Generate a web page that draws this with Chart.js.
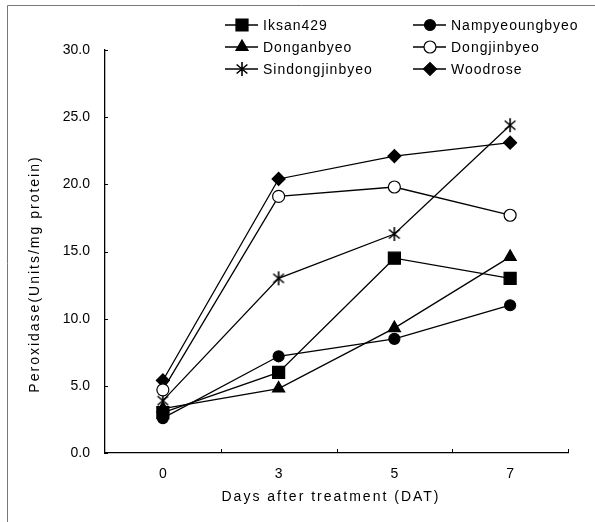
<!DOCTYPE html>
<html>
<head>
<meta charset="utf-8">
<script src="https://cdn.jsdelivr.net/npm/chart.js@4"></script>
<style>
  html, body { margin: 0; padding: 0; background: #fff; }
  #wrap { width: 595px; height: 522px; }
</style>
</head>
<body>
<div id="wrap"><canvas id="peroxChart" width="595" height="522"></canvas></div>
<script>
// days after treatment (category labels)
const days = ['0', '3', '5', '7'];
const yTicks = [0, 5, 10, 15, 20, 25, 30];

// peroxidase activity, Units/mg protein
const iksan429 = [3.0, 6.0, 14.5, 13.0];
const nampyeoungbyeo = [2.6, 7.2, 8.5, 11.0];
const donganbyeo = [3.3, 4.8, 9.3, 14.6];
const dongjinbyeo = [4.7, 19.1, 19.8, 17.7];
const sindongjinbyeo = [3.9, 13.0, 16.3, 24.4];
const woodrose = [5.4, 20.4, 22.1, 23.1];

const varieties = ['Iksan429', 'Nampyeoungbyeo', 'Donganbyeo', 'Dongjinbyeo', 'Sindongjinbyeo', 'Woodrose'];
const seriesValues = [iksan429, nampyeoungbyeo, donganbyeo, dongjinbyeo, sindongjinbyeo, woodrose];

const FONT = "'Liberation Sans', Arial, sans-serif";

// six-armed asterisk, the library's 'star' has eight
function asterisk(r) {
    const c = document.createElement('canvas');
    const s = 2 * Math.ceil(r + 1);
    c.width = s; c.height = s;
    const g = c.getContext('2d');
    g.strokeStyle = '#000';
    g.lineWidth = 1.6;
    g.beginPath();
    [0, 50, -50].forEach(function (deg) {
        const a = deg * Math.PI / 180;
        const dx = Math.sin(a) * r, dy = Math.cos(a) * r;
        g.moveTo(s / 2 - dx, s / 2 - dy);
        g.lineTo(s / 2 + dx, s / 2 + dy);
    });
    g.stroke();
    return c;
}

const markers = ['rect', 'circle', 'triangle', 'circle', asterisk(7), 'rectRot'];
const fills = ['#000', '#000', '#000', '#fff', '#000', '#000'];
const radii = [8.5, 5.5, 7, 6, 7, 6.5];

const datasets = varieties.map(function (name, i) {
    return {
        label: name,
        data: seriesValues[i],
        borderColor: '#000',
        borderWidth: 1.3,
        pointStyle: markers[i],
        pointRadius: radii[i],
        pointBackgroundColor: fills[i],
        pointBorderColor: '#000',
        pointBorderWidth: 1.2,
        tension: 0
    };
});

// legend with a short line through each marker, two columns
const lineLegend = {
    id: 'lineLegend',
    afterDraw(chart) {
        const ctx = chart.ctx;
        const colX = [225, 413];
        const rowY = [25, 47, 69];
        ctx.save();
        chart.data.datasets.forEach(function (ds, i) {
            const x = colX[i % 2];
            const y = rowY[Math.floor(i / 2)];
            ctx.strokeStyle = '#000';
            ctx.lineWidth = 1.3;
            ctx.beginPath();
            ctx.moveTo(x, y);
            ctx.lineTo(x + 33, y);
            ctx.stroke();
            ctx.fillStyle = ds.pointBackgroundColor;
            ctx.lineWidth = ds.pointBorderWidth;
            Chart.helpers.drawPoint(ctx, {
                pointStyle: ds.pointStyle,
                radius: ds.pointRadius,
                borderWidth: ds.pointBorderWidth
            }, x + 17, y);
            ctx.fillStyle = '#000';
            ctx.font = '14px ' + FONT;
            ctx.letterSpacing = '1px';
            ctx.textBaseline = 'middle';
            ctx.textAlign = 'left';
            ctx.fillText(ds.label, x + 38, y + 1);
            ctx.letterSpacing = '0px';
        });
        ctx.restore();
    }
};

// axis titles (wide letter spacing), inward tick marks and the outer frame
const axisDeco = {
    id: 'axisDeco',
    afterDraw(chart) {
        const ctx = chart.ctx;
        const xs = chart.scales.x;
        const ys = chart.scales.y;
        const area = chart.chartArea;
        ctx.save();
        ctx.strokeStyle = '#000';
        ctx.lineWidth = 1;
        ctx.beginPath();
        yTicks.forEach(function (v) {
            const py = Math.round(ys.getPixelForValue(v)) + 0.5;
            ctx.moveTo(area.left, py);
            ctx.lineTo(area.left + 3, py);
        });
        const half = (xs.getPixelForValue(1) - xs.getPixelForValue(0)) / 2;
        days.forEach(function (d, i) {
            const px = Math.round(xs.getPixelForValue(i) + half) + 0.5;
            ctx.moveTo(px, area.bottom);
            ctx.lineTo(px, area.bottom - 4);
        });
        ctx.stroke();

        ctx.strokeStyle = '#777';
        ctx.beginPath();
        ctx.moveTo(7.5, 522);
        ctx.lineTo(7.5, 5.5);
        ctx.lineTo(595, 5.5);
        ctx.stroke();

        ctx.fillStyle = '#000';
        ctx.font = '14px ' + FONT;
        ctx.letterSpacing = '2px';
        ctx.textAlign = 'center';
        ctx.textBaseline = 'middle';
        ctx.fillText('Days after treatment (DAT)', 331, 497);
        ctx.translate(35, 274);
        ctx.rotate(-Math.PI / 2);
        ctx.fillText('Peroxidase(Units/mg protein)', 0, 0);
        ctx.letterSpacing = '0px';
        ctx.restore();
    }
};

new Chart(document.getElementById('peroxChart'), {
    type: 'line',
    data: { labels: days, datasets: datasets },
    options: {
        responsive: false,
        animation: false,
        layout: { padding: { left: 0, top: 50, right: 27, bottom: 0 } },
        plugins: { legend: { display: false }, tooltip: { enabled: false } },
        scales: {
            x: {
                offset: true,
                grid: { display: false, drawTicks: false },
                border: { color: '#000', width: 1.3 },
                ticks: { color: '#000', padding: 13, font: { family: FONT, size: 14 } },
                afterFit(scale) { scale.height = 69; }
            },
            y: {
                min: 0,
                max: 30,
                grid: { display: false, drawTicks: false },
                border: { color: '#000', width: 1.3 },
                ticks: {
                    stepSize: 5,
                    color: '#000',
                    padding: 15,
                    font: { family: FONT, size: 14 },
                    callback: function (v) { return Number(v).toFixed(1); }
                },
                afterFit(scale) { scale.width = 105; }
            }
        }
    },
    plugins: [lineLegend, axisDeco]
});
</script>
</body>
</html>
